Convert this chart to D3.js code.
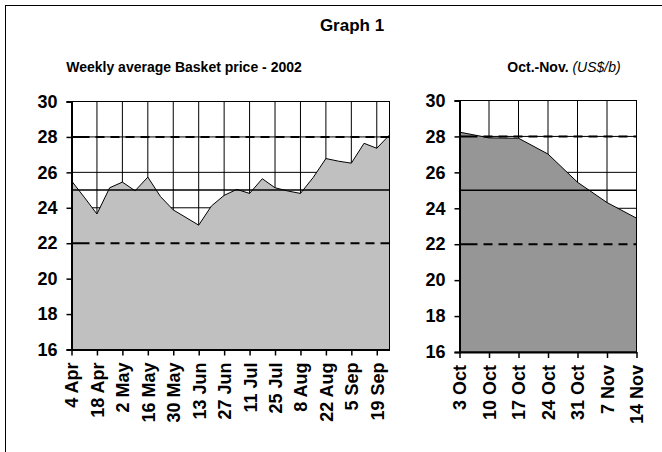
<!DOCTYPE html>
<html>
<head>
<meta charset="utf-8">
<script src="https://cdn.jsdelivr.net/npm/d3@7"></script>
<style>
body { margin: 0; background: #fff; }
text { font-family: "Liberation Sans", Arial, sans-serif; }
</style>
</head>
<body>
<div id="chart"></div>
<script>
// weekly average basket price, Apr - Sep 2002
const weeks = ["4 Apr","11 Apr","18 Apr","25 Apr","2 May","9 May","16 May","23 May","30 May",
  "6 Jun","13 Jun","20 Jun","27 Jun","4 Jul","11 Jul","18 Jul","25 Jul","1 Aug","8 Aug",
  "15 Aug","22 Aug","29 Aug","5 Sep","12 Sep","19 Sep","26 Sep"];
const weekPrice = [25.52,24.6,23.65,25.13,25.45,24.96,25.73,24.63,23.88,
  23.45,23.02,24.1,24.7,25.04,24.81,25.64,25.13,24.95,24.81,
  25.71,26.78,26.63,26.52,27.64,27.36,28.11];
// every other week gets a label
const weekLabels = ["4 Apr","18 Apr","2 May","16 May","30 May","13 Jun","27 Jun",
  "11 Jul","25 Jul","8 Aug","22 Aug","5 Sep","19 Sep"];

// Oct - Nov
const octWeeks = ["3 Oct","10 Oct","17 Oct","24 Oct","31 Oct","7 Nov","14 Nov"];
const octPrice = [28.24,27.92,27.9,27.02,25.45,24.32,23.45];

const yTicks = [16,18,20,22,24,26,28,30];
// price band lines
const bandLines = [22, 25, 28];

const width = 662, height = 452;

const svg = d3.select("#chart")
  .append("svg")
  .attr("width", width)
  .attr("height", height);

// outer frame
svg.append("rect")
  .attr("x", 5.5).attr("y", 5.5)
  .attr("width", 720).attr("height", 520)
  .attr("fill", "none")
  .attr("stroke", "#000")
  .attr("stroke-width", 1);

svg.append("text")
  .attr("x", 352).attr("y", 31)
  .attr("text-anchor", "middle")
  .attr("font-weight", "bold")
  .attr("font-size", 17)
  .text("Graph 1");

// dash pattern: first dash longer, like the source
function dashes(len) {
  const arr = [18, 6];
  let total = 24;
  while (total < len) { arr.push(9, 6); total += 15; }
  return arr.join(",");
}

function drawPanel(cfg) {
  const g = svg.append("g");

  const x = d3.scalePoint()
    .domain(cfg.cats)
    .range([cfg.x0, cfg.x1]);

  const y = d3.scaleLinear()
    .domain([16, 30])
    .range([cfg.yBot, cfg.yTop]);

  // subtitle
  const t = g.append("text")
    .attr("x", cfg.titleX).attr("y", 72)
    .attr("text-anchor", "middle")
    .attr("font-size", 14);
  t.append("tspan").attr("font-weight", "bold").text(cfg.title);
  if (cfg.unit) t.append("tspan").attr("font-style", "italic").text(" " + cfg.unit);

  // gridlines
  g.append("g").selectAll("line")
    .data(yTicks)
    .join("line")
    .attr("x1", cfg.x0).attr("x2", cfg.x1)
    .attr("y1", d => y(d)).attr("y2", d => y(d))
    .attr("stroke", "#000").attr("stroke-width", 1);

  g.append("g").selectAll("line")
    .data(cfg.tickCats)
    .join("line")
    .attr("x1", d => x(d)).attr("x2", d => x(d))
    .attr("y1", cfg.yTop).attr("y2", cfg.yBot)
    .attr("stroke", "#000").attr("stroke-width", 1);

  // area
  const area = d3.area()
    .x((d, i) => x(cfg.cats[i]))
    .y0(y(16))
    .y1(d => y(d));
  const line = d3.line()
    .x((d, i) => x(cfg.cats[i]))
    .y(d => y(d));

  g.append("path")
    .datum(cfg.values)
    .attr("d", area)
    .attr("fill", cfg.fill);
  g.append("path")
    .datum(cfg.values)
    .attr("d", line)
    .attr("fill", "none")
    .attr("stroke", "#000")
    .attr("stroke-width", 1);

  // band lines 22 / 25 / 28
  g.append("g").selectAll("line")
    .data(bandLines)
    .join("line")
    .attr("x1", cfg.x0).attr("x2", cfg.x1)
    .attr("y1", d => y(d)).attr("y2", d => y(d))
    .attr("stroke", "#000")
    .attr("stroke-width", d => d == 25 ? 1.6 : 2)
    .attr("stroke-dasharray", d => d == 25 ? null : dashes(cfg.x1 - cfg.x0));

  // plot border
  g.append("rect")
    .attr("x", cfg.x0).attr("y", cfg.yTop)
    .attr("width", cfg.x1 - cfg.x0)
    .attr("height", cfg.yBot - cfg.yTop)
    .attr("fill", "none")
    .attr("stroke", "#000").attr("stroke-width", 1);

  // y axis
  const yAxis = d3.axisLeft(y)
    .tickValues(yTicks)
    .tickSize(5)
    .tickPadding(9)
    .tickFormat(d3.format("d"));
  const yAxisG = g.append("g")
    .attr("transform", "translate(" + cfg.x0 + ",0)")
    .call(yAxis);
  yAxisG.select(".domain").attr("stroke-width", 2);
  yAxisG.selectAll(".tick line").attr("stroke-width", 1.5);
  yAxisG.selectAll("text")
    .attr("font-family", "Liberation Sans, Arial, sans-serif")
    .attr("font-size", 18)
    .attr("font-weight", "bold")
    .attr("fill", "#000");

  // x axis
  const xAxis = d3.axisBottom(x)
    .tickValues(cfg.tickCats)
    .tickSize(6)
    .tickSizeOuter(0);
  const xAxisG = g.append("g")
    .attr("transform", "translate(0," + cfg.yBot + ")")
    .call(xAxis);
  xAxisG.select(".domain").attr("stroke-width", 2);
  xAxisG.selectAll(".tick line").attr("stroke-width", 1.5);
  xAxisG.selectAll("text")
    .attr("font-family", "Liberation Sans, Arial, sans-serif")
    .attr("font-size", 18)
    .attr("font-weight", "bold")
    .attr("fill", "#000")
    .attr("text-anchor", "end")
    .attr("transform", "translate(0,5) rotate(-90)")
    .attr("x", -8)
    .attr("y", 0)
    .attr("dy", "0.36em");
}

drawPanel({
  cats: weeks, values: weekPrice, tickCats: weekLabels,
  x0: 71.5, x1: 389.5, yTop: 101.5, yBot: 349.5,
  fill: "#c0c0c0",
  title: "Weekly average Basket price - 2002", titleX: 184
});

drawPanel({
  cats: octWeeks, values: octPrice, tickCats: octWeeks,
  x0: 459.5, x1: 636.5, yTop: 100.5, yBot: 352,
  fill: "#969696",
  title: "Oct.-Nov.", unit: "(US$/b)", titleX: 564
});
</script>
</body>
</html>
